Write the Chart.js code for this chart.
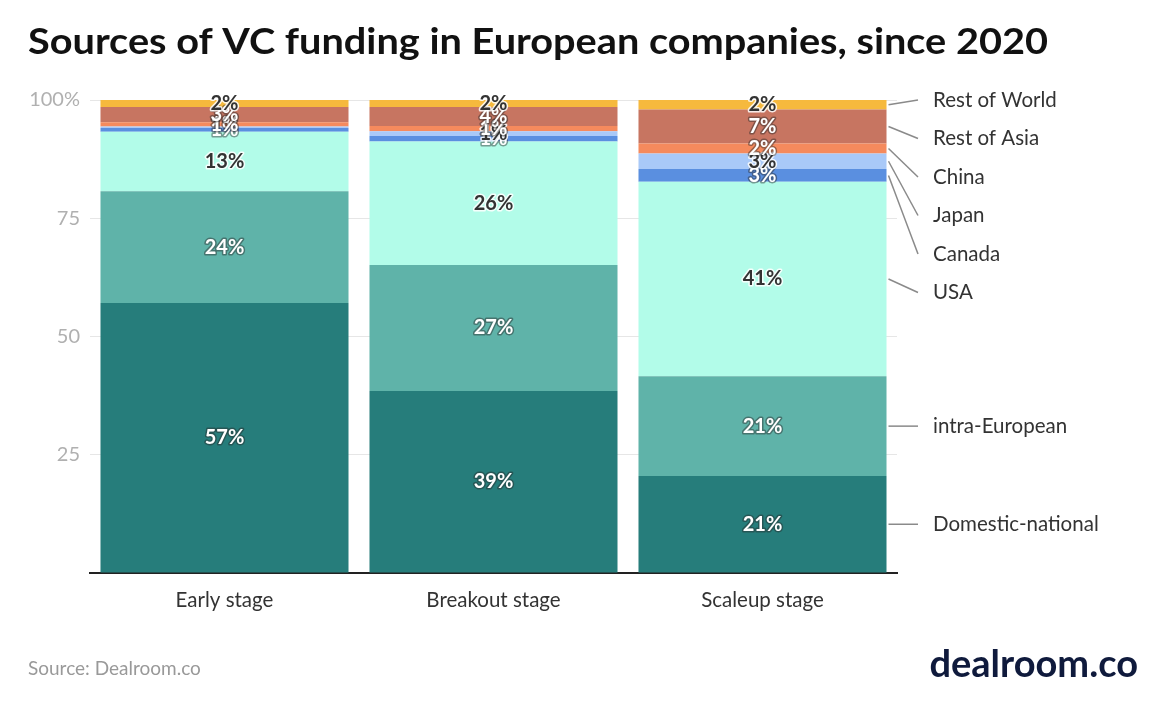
<!DOCTYPE html>
<html>
<head>
<meta charset="utf-8">
<script src="https://cdn.jsdelivr.net/npm/chart.js@4.4.1/dist/chart.umd.min.js"></script>
<style>
  html, body { margin: 0; padding: 0; background: #fff; }
  #wrap { width: 1162px; height: 701px; position: relative; }
</style>
</head>
<body>
<div id="wrap"><canvas id="chart"></canvas></div>
<script>
// data, bottom of the stack first
const stages = ["Early stage", "Breakout stage", "Scaleup stage"];
const domestic = [57.1, 38.5, 20.5];
const intraEuropean = [23.6, 26.6, 21.1];
const usa = [12.6, 26.1, 41.1];
const canada = [0.8, 1.2, 2.7];
const japan = [0.3, 1.0, 3.3];
const china = [0.9, 1.1, 2.1];
const restOfAsia = [3.2, 4.0, 7.2];
const restOfWorld = [1.5, 1.5, 2.0];
const yTicks = [0, 25, 50, 75, 100];

const seriesNames = ["Domestic-national", "intra-European", "USA", "Canada", "Japan", "China", "Rest of Asia", "Rest of World"];
const seriesValues = [domestic, intraEuropean, usa, canada, japan, china, restOfAsia, restOfWorld];
const seriesColors = ["#267d7b", "#5fb3a9", "#b2fce9", "#5a8fe0", "#a9c9f8", "#f58a5d", "#c77561", "#f6b93d"];
// true = dark text with white halo, false = white text with dark halo
const darkLabel = [false, false, true, false, true, false, false, true];

const FONT = "Lato, 'Noto Sans', sans-serif";

const valueLabels = {
  id: "valueLabels",
  afterDatasetsDraw(chart) {
    const ctx = chart.ctx;
    ctx.save();
    ctx.font = "bold 20px " + FONT;
    ctx.textAlign = "center";
    ctx.textBaseline = "middle";
    ctx.lineJoin = "round";
    chart.data.datasets.forEach((ds, i) => {
      const meta = chart.getDatasetMeta(i);
      meta.data.forEach((bar, j) => {
        const v = Math.round(ds.data[j]);
        if (v < 1) return;
        const y = (bar.y + bar.base) / 2;
        const txt = v + "%";
        ctx.lineWidth = 3;
        ctx.strokeStyle = darkLabel[i] ? "rgba(255,255,255,0.85)" : "rgba(40,40,40,0.45)";
        ctx.strokeText(txt, bar.x, y);
        ctx.fillStyle = darkLabel[i] ? "#333" : "#fff";
        ctx.fillText(txt, bar.x, y);
      });
    });
    ctx.restore();
  }
};

const sideLabels = {
  id: "sideLabels",
  afterDraw(chart) {
    const ctx = chart.ctx;
    const area = chart.chartArea;
    const last = stages.length - 1;
    const gap = 38.5;
    // targets from top to bottom
    const items = chart.data.datasets.map((ds, i) => {
      const bar = chart.getDatasetMeta(i).data[last];
      return { name: seriesNames[i], y0: (bar.y + bar.base) / 2, x0: bar.x + bar.width / 2 + 2 };
    }).reverse();
    // spread overlapping labels as centred clusters
    let clusters = items.map(it => ({ members: [it], top: it.y0 }));
    let changed = true;
    while (changed) {
      changed = false;
      for (let k = 0; k < clusters.length - 1; k++) {
        const a = clusters[k], b = clusters[k + 1];
        if (a.top + a.members.length * gap > b.top) {
          const members = a.members.concat(b.members);
          const mean = members.reduce((s, m) => s + m.y0, 0) / members.length;
          let top = mean - (members.length - 1) * gap / 2;
          clusters.splice(k, 2, { members, top });
          changed = true;
          break;
        }
      }
      if (clusters[0].top < area.top) { clusters[0].top = area.top; }
    }
    ctx.save();
    ctx.font = "20.5px " + FONT;
    ctx.textBaseline = "middle";
    ctx.textAlign = "left";
    ctx.strokeStyle = "#8a8a8a";
    ctx.lineWidth = 1.5;
    clusters.forEach(c => c.members.forEach((m, k) => {
      const ly = c.top + k * gap;
      ctx.beginPath();
      ctx.moveTo(m.x0, m.y0);
      ctx.lineTo(area.right + 21, ly);
      ctx.stroke();
      ctx.fillStyle = "#333";
      ctx.fillText(m.name, area.right + 36, ly);
    }));
    ctx.restore();
  }
};

const frameText = {
  id: "frameText",
  afterDraw(chart) {
    const ctx = chart.ctx;
    ctx.save();
    // title, stretched to the width it has in the reference
    const title = "Sources of VC funding in European companies, since 2020";
    ctx.fillStyle = "#111";
    ctx.font = "bold 36px " + FONT;
    ctx.textAlign = "left";
    ctx.textBaseline = "alphabetic";
    const w = ctx.measureText(title).width;
    ctx.save();
    ctx.translate(28, 54);
    ctx.scale(1020 / w, 1);
    ctx.fillText(title, 0, 0);
    ctx.restore();
    ctx.fillStyle = "#999";
    ctx.font = "19px " + FONT;
    ctx.fillText("Source: Dealroom.co", 28, 675);
    ctx.fillStyle = "#0f1a3c";
    ctx.font = "bold 38px " + FONT;
    ctx.textAlign = "right";
    ctx.fillText("dealroom.co", 1138, 677);
    ctx.restore();
  }
};

new Chart(document.getElementById("chart"), {
  type: "bar",
  data: {
    labels: stages,
    datasets: seriesValues.map((vals, i) => ({
      label: seriesNames[i],
      data: vals,
      backgroundColor: seriesColors[i],
      borderWidth: 0,
      barPercentage: 0.922,
      categoryPercentage: 1
    }))
  },
  options: {
    responsive: true,
    maintainAspectRatio: false,
    animation: false,
    layout: { padding: { top: 100, right: 265, bottom: 0, left: 0 } },
    plugins: { legend: { display: false }, tooltip: { enabled: false } },
    scales: {
      x: {
        stacked: true,
        grid: { display: false },
        border: { display: true, color: "#222", width: 2 },
        ticks: { color: "#333", font: { family: FONT, size: 20.5 }, padding: 7 },
        afterFit(scale) { scale.height = 128; }
      },
      y: {
        stacked: true,
        min: yTicks[0],
        max: yTicks[yTicks.length - 1],
        afterBuildTicks(scale) { scale.ticks = yTicks.map(v => ({ value: v })); },
        grid: { color: "#e6e6e6", drawTicks: false },
        border: { display: false },
        ticks: {
          color: "#b0b0b0",
          font: { family: FONT, size: 20 },
          padding: 10,
          callback: v => (v === 100 ? "100%" : v === 0 ? "" : v)
        },
        afterFit(scale) { scale.width = 90; }
      }
    }
  },
  plugins: [valueLabels, sideLabels, frameText]
});
</script>
</body>
</html>
